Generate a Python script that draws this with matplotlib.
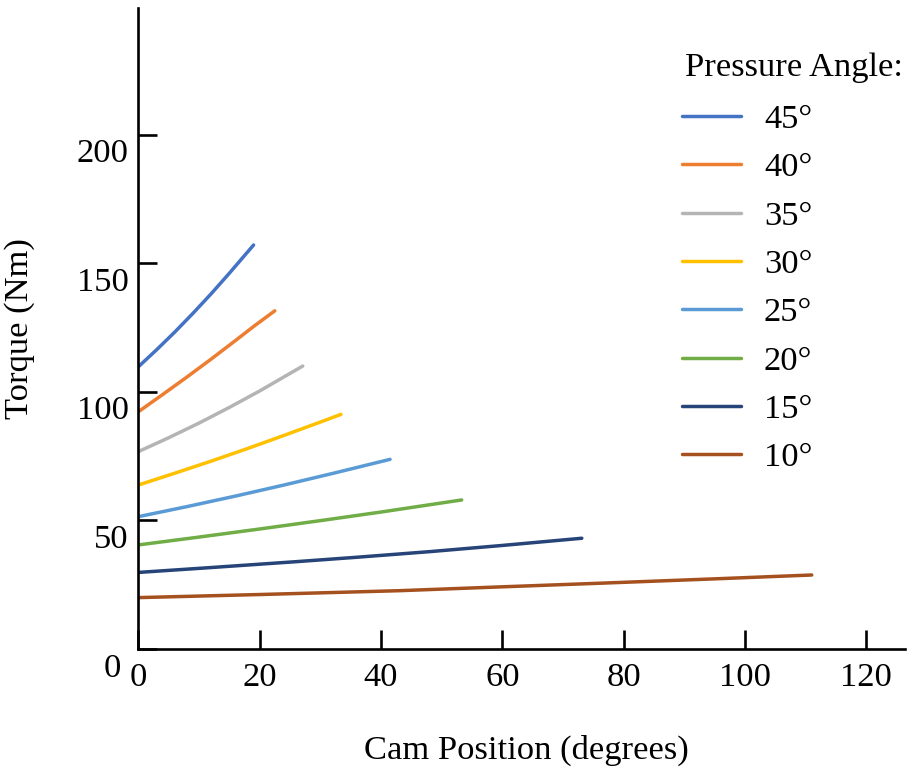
import matplotlib
matplotlib.use("Agg")
import matplotlib.pyplot as plt
import matplotlib.transforms as mtransforms

plt.rcParams['font.family'] = ['Liberation Serif', 'DejaVu Serif']

labels = ["45°", "40°", "35°", "30°", "25°", "20°", "15°", "10°"]
colors = ["#4472C4", "#ED7D31", "#B4B4B4", "#FFC000", "#5B9BD5", "#70AD47", "#264478", "#A5501F"]

x45 = [0, 3, 6, 9, 12, 15, 19.0]
y45 = [109.6, 116.2, 123.1, 130.4, 138.0, 146.0, 157.0]
x40 = [0, 4, 8, 12, 16, 19, 22.5]
y40 = [92.1, 98.8, 105.6, 112.6, 119.8, 125.3, 131.4]
x35 = [0, 5, 10, 15, 20, 27.1]
y35 = [76.6, 82.0, 87.7, 93.8, 100.2, 109.9]
x30 = [0, 6, 12, 18, 24, 30, 33.4]
y30 = [63.6, 68.2, 72.9, 77.8, 82.9, 88.1, 91.1]
x25 = [0, 8, 16, 24, 32, 41.5]
y25 = [51.3, 55.2, 59.3, 63.6, 68.1, 73.6]
x20 = [0, 10, 20, 30, 40, 53.3]
y20 = [40.3, 43.35, 46.5, 49.75, 53.1, 57.8]
x15 = [0, 12, 26.1, 36, 48.1, 60, 73.1]
y15 = [29.6, 31.5, 33.8, 35.5, 37.7, 40.1, 42.9]
x10 = [0, 20, 43.1, 60, 76.1, 95, 111.0]
y10 = [19.8, 21.0, 22.5, 24.0, 25.4, 27.1, 28.6]

series_x = [x45, x40, x35, x30, x25, x20, x15, x10]
series_y = [y45, y40, y35, y30, y25, y20, y15, y10]

xticks = [0, 20, 40, 60, 80, 100, 120]
yticks = [0, 50, 100, 150, 200]

FS = 24.8

fig = plt.figure(figsize=(9.2, 7.68), dpi=100)
ax = fig.add_axes([138.3 / 920, 1 - 648.5 / 768, (905 - 138.3) / 920, (648.5 - 8) / 768])

handles = []
for xs, ys, c, lab in zip(series_x, series_y, colors, labels):
    h, = ax.plot(xs, ys, color=c, lw=2.5, solid_capstyle='round',
                 solid_joinstyle='round', label=lab)
    handles.append(h)

ax.set_xlim(0, (905 - 138.3) / 6.067)
ax.set_ylim(0, (648.5 - 8) / 2.57)

for s in ['top', 'right']:
    ax.spines[s].set_visible(False)
for s in ['left', 'bottom']:
    ax.spines[s].set_linewidth(1.9)
    ax.spines[s].set_color('black')

ax.set_xticks(xticks)
ax.set_yticks(yticks)
ax.tick_params(axis='both', direction='in', length=14, width=1.9, labelsize=FS, colors='black')
ax.tick_params(axis='x', pad=10)
ax.tick_params(axis='y', pad=7)

fig.canvas.draw()
offset = mtransforms.ScaledTranslation(0, -16 / 100, fig.dpi_scale_trans)
for i, lbl in enumerate(ax.get_yticklabels()):
    if yticks[i] == 0:
        lbl.set_transform(lbl.get_transform() + mtransforms.ScaledTranslation(-8 / 100, -17 / 100, fig.dpi_scale_trans))
    else:
        lbl.set_transform(lbl.get_transform() + offset)

ax.set_xlabel("Cam Position (degrees)", fontsize=FS, labelpad=30)
ax.xaxis.label.set_transform(ax.xaxis.label.get_transform() +
                             mtransforms.ScaledTranslation(5 / 100, 0, fig.dpi_scale_trans))
ax.set_ylabel("Torque (Nm)", fontsize=FS, labelpad=30)

fig.text(685 / 920, 1 - 68 / 768, "Pressure Angle:", fontsize=FS, ha='left', va='center')

leg = ax.legend(handles=handles, loc='upper left',
                bbox_to_anchor=(682 / 920, 1 - 104 / 768), bbox_transform=fig.transFigure,
                frameon=False, fontsize=FS, handlelength=1.7,
                handletextpad=0.68, labelspacing=0.50, borderpad=0, borderaxespad=0)

fig.savefig("out.png", dpi=100)
